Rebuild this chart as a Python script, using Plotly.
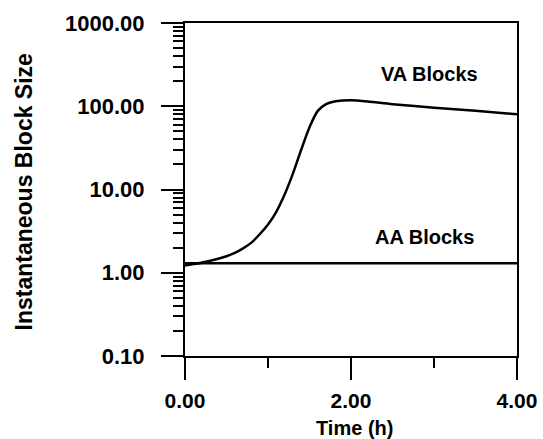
import plotly.graph_objects as go

# Data
time_h = [0.0, 0.1, 0.2, 0.3, 0.4, 0.5, 0.6, 0.7, 0.8, 0.9, 1.0, 1.1, 1.2, 1.3, 1.4, 1.5,
          1.6, 1.7, 1.8, 1.9, 2.0, 2.2, 2.5, 3.0, 3.5, 4.0]
va_blocks = [1.22, 1.27, 1.32, 1.39, 1.47, 1.58, 1.73, 1.96, 2.3, 2.9, 3.8, 5.4, 8.7, 15.5, 30, 56,
             88, 106, 114, 117, 118, 114, 106, 96, 88, 80]
aa_time = [0.0, 4.0]
aa_blocks = [1.3, 1.3]

y_tickvals = [0.1, 1, 10, 100, 1000]
y_ticktext = ["0.10", "1.00", "10.00", "100.00", "1000.00"]
x_tickvals = [0, 2, 4]
x_ticktext = ["0.00", "2.00", "4.00"]
x_minor = [1, 3]
y_minor = [m * d for d in [0.1, 1, 10, 100] for m in range(2, 10)]

FONT = "Liberation Sans, Arial, sans-serif"

fig = go.Figure()
fig.add_trace(go.Scatter(x=time_h, y=va_blocks, mode="lines",
                         line=dict(color="black", width=2.5, shape="spline", smoothing=0.8),
                         showlegend=False))
fig.add_trace(go.Scatter(x=aa_time, y=aa_blocks, mode="lines",
                         line=dict(color="black", width=2.5),
                         showlegend=False))

fig.add_annotation(x=2.95, y=2.39, xref="x", yref="y", text="<b>VA Blocks</b>",
                   showarrow=False, font=dict(family=FONT, size=20, color="black"))
fig.add_annotation(x=2.89, y=0.43, xref="x", yref="y", text="<b>AA Blocks</b>",
                   showarrow=False, font=dict(family=FONT, size=20, color="black"))

# Axis titles
fig.add_annotation(x=0.512, y=-0.216, xref="paper", yref="paper", text="<b>Time (h)</b>",
                   showarrow=False, xanchor="center", yanchor="middle",
                   borderpad=0, font=dict(family=FONT, size=20, color="black"))
fig.add_annotation(x=-0.482, y=0.494, xref="paper", yref="paper",
                   text="<b>Instantaneous Block Size</b>", textangle=-90,
                   showarrow=False, xanchor="center", yanchor="middle",
                   font=dict(family=FONT, size=23, color="black"))

fig.update_layout(
    width=543, height=439,
    margin=dict(l=185, r=26, t=23, b=83),
    paper_bgcolor="white", plot_bgcolor="white",
    font=dict(family=FONT, color="black"),
    xaxis=dict(
        range=[0, 4], showgrid=False, zeroline=False, automargin=False,
        showline=True, linecolor="black", linewidth=2, mirror=True,
        tickmode="array", tickvals=x_tickvals, ticktext=x_ticktext,
        ticks="outside", ticklen=22, tickwidth=2, tickcolor="black",
        ticklabelstandoff=3,
        tickfont=dict(family=FONT, size=21, color="black", weight="bold"),
        minor=dict(tickmode="array", tickvals=x_minor, ticks="outside",
                   ticklen=10, tickwidth=2, tickcolor="black", showgrid=False),
    ),
    yaxis=dict(
        type="log", range=[-1, 3], showgrid=False, zeroline=False, automargin=False,
        showline=True, linecolor="black", linewidth=2, mirror=True,
        tickmode="array", tickvals=y_tickvals, ticktext=y_ticktext,
        ticks="outside", ticklen=22, tickwidth=2, tickcolor="black",
        ticklabelstandoff=12,
        tickfont=dict(family=FONT, size=22, color="black", weight="bold"),
        minor=dict(tickmode="array", tickvals=y_minor, ticks="outside",
                   ticklen=10, tickwidth=1.5, tickcolor="black", showgrid=False),
    ),
)

fig.write_html("out.html")
